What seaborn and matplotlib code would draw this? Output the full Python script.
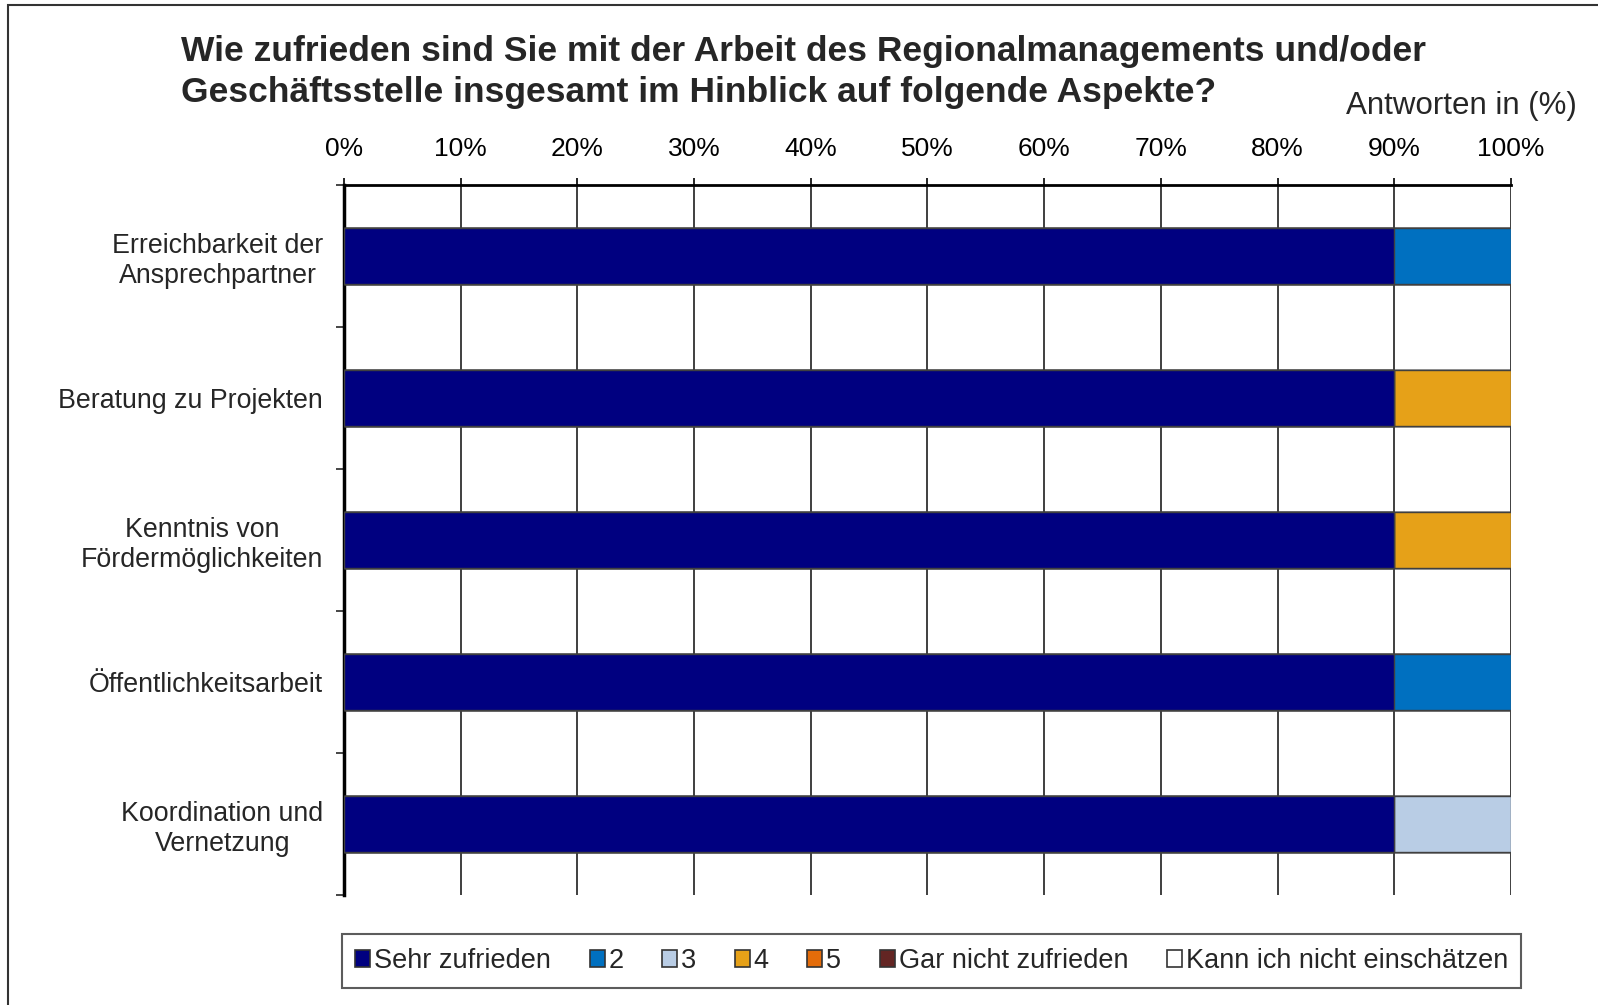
import numpy as np
import pandas as pd
import matplotlib.pyplot as plt
import seaborn as sns
from matplotlib.patches import Patch, Rectangle
from matplotlib.ticker import FixedLocator, PercentFormatter

aspects = [
    "Erreichbarkeit der\nAnsprechpartner",
    "Beratung zu Projekten",
    "Kenntnis von\nFördermöglichkeiten",
    "Öffentlichkeitsarbeit",
    "Koordination und\nVernetzung",
]
series_names = ["Sehr zufrieden", "2", "3", "4", "5", "Gar nicht zufrieden", "Kann ich nicht einschätzen"]
sehr_zufrieden = [90, 90, 90, 90, 90]
note_2 = [10, 0, 0, 10, 0]
note_3 = [0, 0, 0, 0, 10]
note_4 = [0, 10, 10, 0, 0]
note_5 = [0, 0, 0, 0, 0]
gar_nicht = [0, 0, 0, 0, 0]
kann_nicht = [0, 0, 0, 0, 0]
colors = ["#000080", "#0070C0", "#B9CDE5", "#E6A118", "#E46C0A", "#632523", "#FFFFFF"]

values = pd.DataFrame(
    [sehr_zufrieden, note_2, note_3, note_4, note_5, gar_nicht, kann_nicht],
    index=series_names, columns=aspects,
).T
cumulative = values.cumsum(axis=1)

sns.set_style("white")
plt.rcParams["font.family"] = ["Liberation Sans", "DejaVu Sans"]

fig = plt.figure(figsize=(15.98, 10.05), dpi=100)
ax = fig.add_axes([0.2153, 0.1095, 0.7302, 0.7064])

# stacked bars: draw cumulative totals from the outermost segment inwards
for name, color in reversed(list(zip(series_names, colors))):
    df = pd.DataFrame({"aspect": aspects, "value": cumulative[name].values})
    sns.barplot(data=df, x="value", y="aspect", color=color, orient="h", saturation=1,
                width=0.4, edgecolor="#404040", linewidth=1.0, ax=ax, zorder=3)

ax.set_xlim(0, 100)
ax.set_ylim(4.5, -0.5)
ax.xaxis.set_major_locator(FixedLocator(np.arange(0, 101, 10)))
ax.xaxis.set_major_formatter(PercentFormatter(decimals=0))
ax.xaxis.tick_top()
ax.tick_params(axis="x", top=True, bottom=False, length=5, width=1.2,
               direction="out", labelsize=19, pad=12, colors="black")
ax.grid(axis="x", color="#303030", linewidth=1.3, zorder=0)
ax.set_axisbelow(True)

ax.set_yticks(range(len(aspects)))
ax.set_yticklabels(aspects, fontsize=19.3, multialignment="center")
ax.tick_params(axis="y", which="major", length=0, pad=15)
ax.yaxis.set_minor_locator(FixedLocator(np.arange(-0.5, 5, 1)))
ax.tick_params(axis="y", which="minor", left=True, length=6, width=1.2, direction="out")
ax.set_xlabel("")
ax.set_ylabel("")

for side in ["right", "bottom"]:
    ax.spines[side].set_visible(False)
ax.spines["top"].set_linewidth(2)
ax.spines["top"].set_color("black")
ax.spines["left"].set_linewidth(2.5)
ax.spines["left"].set_color("black")

fig.text(0.113, 0.949, "Wie zufrieden sind Sie mit der Arbeit des Regionalmanagements und/oder",
         fontsize=25.5, fontweight="bold", va="center", ha="left")
fig.text(0.113, 0.908, "Geschäftsstelle insgesamt im Hinblick auf folgende Aspekte?",
         fontsize=25.5, fontweight="bold", va="center", ha="left")
fig.text(0.987, 0.895, "Antworten in (%)", fontsize=22.5, va="center", ha="right")

handles = [Patch(facecolor=c, edgecolor="#333333", linewidth=1.2) for c in colors]
leg = fig.legend(handles, series_names, loc="center", bbox_to_anchor=(0.583, 0.0438),
                 ncol=7, fontsize=19.5, frameon=True, fancybox=False, edgecolor="#333333",
                 handlelength=0.55, handleheight=0.55, handletextpad=0.15, columnspacing=1.42,
                 borderpad=0.5, borderaxespad=0)
leg.get_frame().set_linewidth(1.5)

fig.patches.append(Rectangle((0.005, -0.05), 1.2, 1.045, transform=fig.transFigure,
                             fill=False, edgecolor="#333333", linewidth=1.5))

fig.savefig("out.png", dpi=100)
